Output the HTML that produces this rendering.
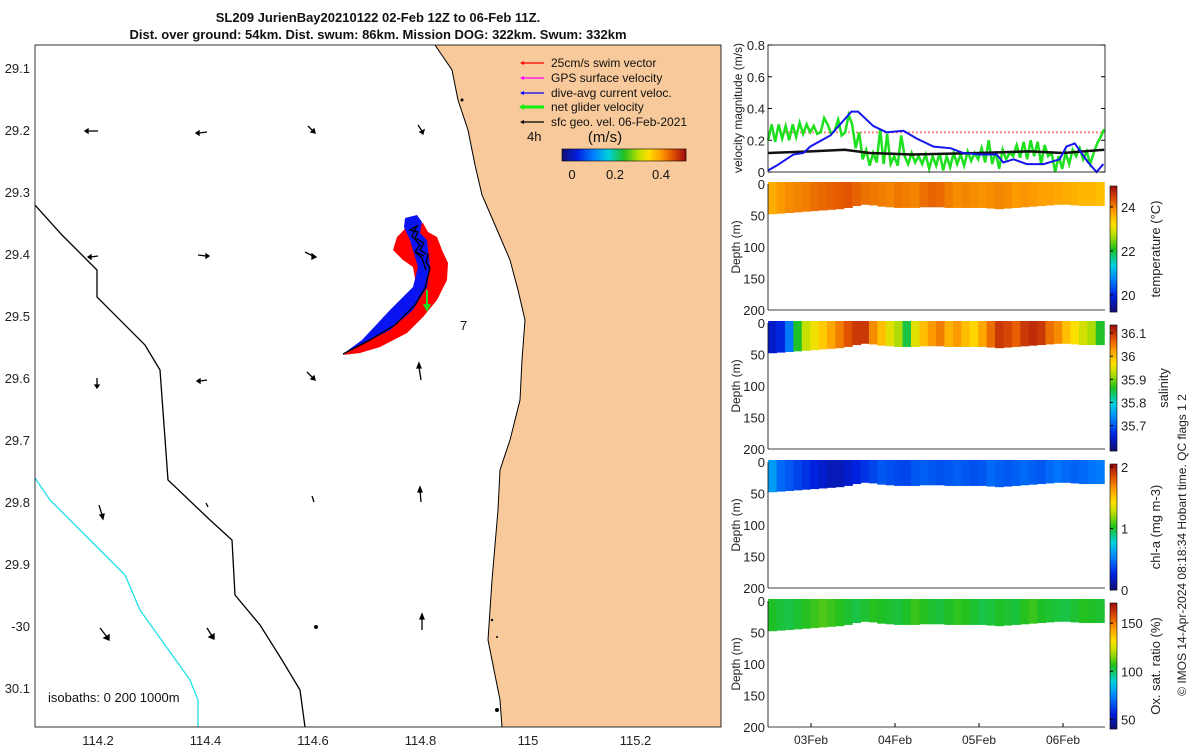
<!DOCTYPE html>
<html><head><meta charset="utf-8"><style>
body{margin:0;background:#fff;}
svg{display:block;font-family:"Liberation Sans",sans-serif;}
</style></head><body>
<svg id="fig" width="1200" height="750" viewBox="0 0 1200 750" xmlns="http://www.w3.org/2000/svg">
<text x="378" y="22" text-anchor="middle" font-size="13" font-weight="bold" fill="#111">SL209 JurienBay20210122 02-Feb 12Z to 06-Feb 11Z.</text>
<text x="378" y="39" text-anchor="middle" font-size="13" font-weight="bold" fill="#111">Dist. over ground: 54km. Dist. swum: 86km. Mission DOG: 322km. Swum: 332km</text>

<g id="map">
<clipPath id="mc"><rect x="35" y="45" width="686" height="682"/></clipPath>
<rect x="35" y="45" width="686" height="682" fill="#fff"/>
<g clip-path="url(#mc)">
<path d="M435,45 L452,70 L458,100 L468,130 L475,165 L482,195 L495,225 L510,260 L518,290 L525,320 L522,360 L520,400 L510,440 L500,470 L498,510 L495,545 L492,580 L490,610 L488,640 L494,670 L500,700 L502,727 L721,727 L721,45 Z" fill="#f8c99a"/>
<path d="M435,45 L452,70 L458,100 L468,130 L475,165 L482,195 L495,225 L510,260 L518,290 L525,320 L522,360 L520,400 L510,440 L500,470 L498,510 L495,545 L492,580 L490,610 L488,640 L494,670 L500,700 L502,727" fill="none" stroke="#000" stroke-width="1"/>
<path d="M35,205 L62,235 L97,270 L97,297 L145,345 L160,370 L168,480 L210,520 L232,540 L235,595 L260,625 L282,660 L300,690 L305,727" fill="none" stroke="#000" stroke-width="1.3"/>
<path d="M35,478 L50,500 L90,540 L125,575 L140,610 L190,680 L198,700 L198,727" fill="none" stroke="#22e0e8" stroke-width="1.3"/>
<path d="M402,232 L408,225 L423,223 L428,232 L437,237 L442,250 L448,263 L447,280 L437,300 L423,317 L407,333 L380,347 L360,353 L343,355 L370,340 L393,327 L410,310 L417,290 L413,267 L403,260 L393,250 L397,237 Z" fill="#f00"/>
<path d="M405,218 L417,215 L422,222 L420,233 L427,240 L430,267 L427,287 L413,310 L390,330 L357,347 L343,354 L362,340 L390,310 L413,287 L418,267 L410,240 L404,227 Z" fill="#0a14f0"/>
<path d="M343,354 L370,340 L395,325 L415,305 L425,288 L427,280 L430,268 L426,262 L428,255 L420,250 L424,243 L415,238 L418,232 L410,230 L417,226 L412,236 L420,245 L415,252 L422,258 L426,270" fill="none" stroke="#000" stroke-width="1.3"/>
<line x1="427" y1="290" x2="427" y2="306" stroke="#1ee01e" stroke-width="2"/>
<path d="M423,304 L427,312 L431,304 Z" fill="#1ee01e"/>
<g stroke="#000" stroke-width="1.3" fill="#000">
<line x1="98" y1="131" x2="88" y2="131"/><path d="M88,129 L85,131 L88,133Z"/>
<line x1="207" y1="132" x2="199" y2="133"/><path d="M199,131 L196,133 L199,135Z"/>
<line x1="308" y1="126" x2="313" y2="131"/><path d="M311,132 L315,133 L314,129Z"/>
<line x1="418" y1="125" x2="422" y2="131"/><path d="M420,132 L423,134 L424,130Z"/>
<line x1="98" y1="256" x2="91" y2="257"/><path d="M91,255 L88,257 L91,259Z"/>
<line x1="198" y1="255" x2="206" y2="256"/><path d="M206,254 L209,256 L206,258Z"/>
<line x1="305" y1="252" x2="313" y2="256"/><path d="M312,254 L316,257 L312,259Z"/>
<line x1="416" y1="252" x2="424" y2="256"/>
<line x1="97" y1="378" x2="97" y2="385"/><path d="M95,385 L97,388 L99,385Z"/>
<line x1="207" y1="380" x2="200" y2="381"/><path d="M200,379 L197,381 L200,383Z"/>
<line x1="307" y1="372" x2="313" y2="378"/><path d="M311,379 L315,380 L314,376Z"/>
<line x1="421" y1="380" x2="419" y2="367"/><path d="M417,368 L419,363 L421,368Z"/>
<line x1="99" y1="505" x2="102" y2="515"/><path d="M100,515 L103,519 L104,514Z"/>
<line x1="206" y1="503" x2="208" y2="507"/>
<line x1="312" y1="496" x2="314" y2="502"/>
<line x1="421" y1="502" x2="420" y2="490"/><path d="M418,492 L420,487 L422,492Z"/>
<line x1="100" y1="628" x2="107" y2="637"/><path d="M104,638 L109,640 L109,635Z"/>
<line x1="207" y1="628" x2="212" y2="636"/><path d="M209,637 L214,639 L214,634Z"/>
<circle cx="316" cy="627" r="1.3"/>
<line x1="422" y1="630" x2="422" y2="617"/><path d="M420,619 L422,614 L424,619Z"/>
</g>
<g fill="#000"><circle cx="462" cy="100" r="1.5"/><circle cx="492" cy="620" r="1.2"/><circle cx="497" cy="637" r="1"/><circle cx="497" cy="710" r="2"/></g>
<text x="460" y="330" font-size="13" fill="#111">7</text>
<text x="48" y="702" font-size="13" fill="#111">isobaths: 0   200  1000m</text>
</g>
<rect x="35" y="45" width="686" height="682" fill="none" stroke="#000" stroke-width="0.8"/>
<g id="mapticks" font-size="13" fill="#222"></g>
<g font-size="12" fill="#111">
<line x1="524" y1="63" x2="544" y2="63" stroke="#f00" stroke-width="1.3"/><path d="M524,61 L520,63 L524,65Z" fill="#f00"/><text x="551" y="67">25cm/s swim vector</text>
<line x1="524" y1="78" x2="544" y2="78" stroke="#f0f" stroke-width="1.3"/><path d="M524,76 L520,78 L524,80Z" fill="#f0f"/><text x="551" y="82">GPS surface velocity</text>
<line x1="524" y1="93" x2="544" y2="93" stroke="#00f" stroke-width="1.3"/><path d="M524,91 L520,93 L524,95Z" fill="#00f"/><text x="551" y="97">dive-avg current veloc.</text>
<line x1="524" y1="107" x2="544" y2="107" stroke="#1e1" stroke-width="3"/><path d="M524,104 L519,107 L524,110Z" fill="#1e1"/><text x="551" y="111">net glider velocity</text>
<line x1="524" y1="122" x2="544" y2="122" stroke="#000" stroke-width="1.3"/><path d="M524,120 L520,122 L524,124Z" fill="#000"/><text x="551" y="126">sfc geo. vel. 06-Feb-2021</text>
<text x="527" y="141" font-size="13">4h</text>
<text x="605" y="142" font-size="15" text-anchor="middle">(m/s)</text>
<g id="vcbar"></g>
<text x="572" y="179" text-anchor="middle" font-size="13">0</text><text x="615" y="179" text-anchor="middle" font-size="13">0.2</text><text x="661" y="179" text-anchor="middle" font-size="13">0.4</text>
</g>
</g>

<g id="right"></g>
<text transform="translate(1186,545) rotate(-90)" text-anchor="middle" font-size="12" fill="#222">© IMOS 14-Apr-2024 08:18:34 Hobart time. QC flags 1  2</text>
</svg>
<script>
// velocity time series (time in days since 02-Feb 00Z)
const blueT=[0.49,0.59,0.79,0.91,0.99,1.23,1.48,1.56,1.74,1.90,2.10,2.26,2.46,2.66,2.81,3.01,3.21,3.29,3.41,3.57,3.77,3.96,4.04,4.14,4.30,4.40,4.48];
const blueV=[0.01,0.04,0.11,0.12,0.16,0.23,0.38,0.38,0.29,0.25,0.26,0.21,0.16,0.15,0.12,0.11,0.11,0.06,0.08,0.05,0.05,0.08,0.16,0.18,0.06,0.0,0.05];
const blackT=[0.49,1.0,1.4,1.7,2.2,3.0,3.6,4.0,4.49];
const blackV=[0.12,0.13,0.14,0.12,0.11,0.12,0.13,0.12,0.14];
const swimV=0.25;
const greenV=[0.20,0.30,0.19,0.30,0.21,0.29,0.20,0.30,0.22,0.31,0.24,0.30,0.25,
0.29,0.24,0.25,0.34,0.30,0.24,0.26,0.33,0.23,0.25,0.36,0.30,
0.15,0.25,0.08,0.14,0.04,0.12,0.06,0.27,0.05,0.24,0.05,0.10,0.04,0.23,0.10,0.05,0.12,0.06,0.10,0.05,
0.11,0.02,0.10,0.04,0.12,0.01,0.10,0.03,0.12,0.05,0.11,0.04,0.13,0.07,0.12,0.08,0.15,
0.06,0.20,0.05,0.13,0.02,0.14,0.08,0.12,0.10,0.17,0.09,0.19,0.08,0.20,
0.10,0.19,0.05,0.17,0.10,0.12,0.00,0.10,0.02,0.12,0.05,0.14,0.10,0.15,0.08,0.13,
0.05,0.12,0.18,0.22,0.27];
const velTicks=[0,0.2,0.4,0.6,0.8];
const dayTicks=[1,2,3,4];
const dayLabels=["03Feb","04Feb","05Feb","06Feb"];
// section columns
const secT0=0.49, secT1=4.49;
const botDepth=[48,47,46,45,44,43,42,41,40,38,35,33,34,36,37,38,38,38,37,37,37,38,38,38,38,38,39,40,39,38,37,36,35,34,33,33,34,35,35,35];
const tempV=[23.7,23.85,23.95,24.0,24.05,24.15,24.2,24.25,24.3,24.35,24.25,24.15,24.1,24.05,24.0,24.1,24.05,24.0,24.15,24.25,24.2,24.05,23.95,24.0,23.95,23.9,23.95,24.0,23.95,23.85,23.9,23.85,23.8,23.8,23.75,23.7,23.65,23.6,23.6,23.55];
const salV=[35.64,35.66,35.72,35.86,35.93,35.96,35.99,36.02,36.05,36.08,36.1,36.1,36.04,36.0,35.95,35.92,35.85,35.95,36.0,36.03,36.05,36.01,36.03,36.0,35.98,36.02,36.06,36.1,36.09,36.07,36.1,36.11,36.1,36.06,36.04,36.0,35.97,35.94,35.92,35.86];
const chlV=[0.6,0.45,0.4,0.35,0.3,0.25,0.2,0.15,0.15,0.2,0.25,0.3,0.35,0.4,0.38,0.36,0.35,0.4,0.42,0.4,0.38,0.4,0.42,0.4,0.38,0.4,0.45,0.42,0.4,0.42,0.45,0.42,0.4,0.45,0.48,0.45,0.42,0.45,0.48,0.5];
const oxV=[105,103,102,104,106,108,110,108,106,104,102,104,106,105,104,103,105,108,106,104,103,105,107,106,104,102,103,105,104,103,106,108,105,104,103,102,104,106,105,104];
const depthTicks=[0,50,100,150,200];
const mapLon=[114.2,114.4,114.6,114.8,115,115.2];
const mapLonLab=["114.2","114.4","114.6","114.8","115","115.2"];
const mapLat=[29.1,29.2,29.3,29.4,29.5,29.6,29.7,29.8,29.9,30.0,30.1];
const mapLatLab=["29.1","29.2","29.3","29.4","29.5","29.6","29.7","29.8","29.9","-30","30.1"];

const NS="http://www.w3.org/2000/svg";
function mk(tag,attrs,parent){const e=document.createElementNS(NS,tag);for(const k in attrs)e.setAttribute(k,attrs[k]);parent.appendChild(e);return e;}
const cmapStops=[[0,[16,16,122]],[0.12,[0,32,224]],[0.25,[0,128,255]],[0.37,[0,208,224]],[0.5,[32,192,32]],[0.62,[192,224,0]],[0.7,[255,224,0]],[0.8,[255,160,0]],[0.9,[224,80,0]],[1,[160,16,16]]];
function jet(v){v=Math.max(0,Math.min(1,v));
 for(let i=1;i<cmapStops.length;i++){if(v<=cmapStops[i][0]){const a=cmapStops[i-1],b=cmapStops[i];const f=(v-a[0])/(b[0]-a[0]);
  const c=a[1].map((x,k)=>Math.round(x+(b[1][k]-x)*f));return `rgb(${c[0]},${c[1]},${c[2]})`;}}
 return 'rgb(160,16,16)';}
const xT=t=>811+(t-1)*84;
const L=768,R=1105;
const right=document.getElementById('right');

// map ticks
const mt=document.getElementById('mapticks');
const lonX=lon=>98+(lon-114.2)/0.2*107.5;
const latY=lat=>69+(lat-29.1)/0.1*62;
mapLon.forEach((v,i)=>{const t=mk('text',{x:lonX(v),y:745,'text-anchor':'middle'},mt);t.textContent=mapLonLab[i];

});
mapLat.forEach((v,i)=>{const t=mk('text',{x:30,y:latY(v)+4,'text-anchor':'end'},mt);t.textContent=mapLatLab[i];

});

// velocity colorbar
const vc=document.getElementById('vcbar');
for(let i=0;i<62;i++){mk('rect',{x:562+i*2,y:149,width:2.2,height:12,fill:jet(i/61)},vc);}
mk('rect',{x:562,y:149,width:124,height:12,fill:'none',stroke:'#000','stroke-width':0.6},vc);

// velocity panel
const vp=mk('g',{},right);


const vy=v=>172-v/0.8*127;
velTicks.forEach(v=>{const t=mk('text',{x:765,y:vy(v)+5,'text-anchor':'end','font-size':13,fill:'#222'},vp);t.textContent=String(v);


mk('line',{x1:L,x2:L+4,y1:vy(v),y2:vy(v),stroke:'#000'},vp);mk('line',{x1:R-4,x2:R,y1:vy(v),y2:vy(v),stroke:'#000'},vp);});
const sw=mk('line',{x1:L,x2:R,y1:vy(swimV),y2:vy(swimV),stroke:'#f88','stroke-width':2,'stroke-dasharray':'2,2'},vp);


const gp=greenV.map((v,i)=>[xT(secT0+i*(secT1-secT0)/(greenV.length-1)),vy(v)]);
const gl=mk('polyline',{points:gp.map(p=>p.join(',')).join(' '),fill:'none',stroke:'#1ee01e','stroke-width':2.5},vp);


const bk=mk('polyline',{points:blackT.map((t,i)=>xT(t)+','+vy(blackV[i])).join(' '),fill:'none',stroke:'#111','stroke-width':2.5},vp);


const bl=mk('polyline',{points:blueT.map((t,i)=>xT(t)+','+vy(blueV[i])).join(' '),fill:'none',stroke:'#1515ee','stroke-width':2},vp);


mk('rect',{x:L,y:45,width:R-L,height:127,fill:'none',stroke:'#000','stroke-width':0.8},vp);
const vl=mk('text',{transform:'translate(742,108) rotate(-90)','text-anchor':'middle','font-size':12,fill:'#222'},vp);vl.textContent='velocity magnitude (m/s)';



// sections
const secs=[
 {y0:184,vals:tempV,lo:19.23,hi:24.95,ticks:[20,22,24],labs:["20","22","24"],title:'temperature (°C)',name:'temperature'},
 {y0:323,vals:salV,lo:35.59,hi:36.135,ticks:[35.7,35.8,35.9,36,36.1],labs:["35.7","35.8","35.9","36","36.1"],title:'salinity',name:'salinity'},
 {y0:462,vals:chlV,lo:0,hi:2.05,ticks:[0,1,2],labs:["0","1","2"],title:'chl-a (mg m-3)',name:'chlorophyll'},
 {y0:601,vals:oxV,lo:40,hi:171,ticks:[50,100,150],labs:["50","100","150"],title:'Ox. sat. ratio (%)',name:'oxygen'}
];
const H=126;
secs.forEach((s,si)=>{
 const g=mk('g',{},right);
 
 
 const dy=d=>s.y0+d/200*H;
 const n=s.vals.length,dt=(secT1-secT0)/n;
 s.vals.forEach((v,i)=>{
  const x=xT(secT0+i*dt);
  const c=mk('rect',{x:x,y:dy(0)-2,width:84*dt+0.6,height:dy(botDepth[i])-dy(0)+2,fill:jet((v-s.lo)/(s.hi-s.lo))},g);
  
  
 });
 depthTicks.forEach(d=>{const t=mk('text',{x:765,y:dy(d)+5,'text-anchor':'end','font-size':13,fill:'#222'},g);t.textContent=String(d);
  
  });
 mk('line',{x1:L,x2:L,y1:s.y0,y2:s.y0+H,stroke:'#000','stroke-width':0.8},g);
 mk('line',{x1:L,x2:R,y1:s.y0+H,y2:s.y0+H,stroke:'#000','stroke-width':0.8},g);
 const yl=mk('text',{transform:`translate(740,${s.y0+H/2}) rotate(-90)`,'text-anchor':'middle','font-size':12,fill:'#222'},g);yl.textContent='Depth (m)';
 
 
 const cb=mk('g',{},g);
 
 
 for(let k=0;k<63;k++){mk('rect',{x:1110,y:s.y0+2+k*2,width:7,height:2.2,fill:jet(1-k/62)},cb);}
 mk('rect',{x:1110,y:s.y0+2,width:7,height:126,fill:'none',stroke:'#000','stroke-width':0.6},cb);
 s.ticks.forEach((v,k)=>{const yy=s.y0+2+126*(1-(v-s.lo)/(s.hi-s.lo));
  mk('line',{x1:1110,x2:1113,y1:yy,y2:yy,stroke:'#000'},cb);
  const t=mk('text',{x:1121,y:yy+5,'font-size':13,fill:'#222'},cb);t.textContent=s.labs[k];
  
  });
 const ct=mk('text',{transform:`translate(${si==1?1168:1160},${s.y0+65}) rotate(-90)`,'text-anchor':'middle','font-size':13,fill:'#222'},cb);ct.textContent=s.title;
 
 
});
dayTicks.forEach((d,i)=>{const t=mk('text',{x:xT(d),y:744,'text-anchor':'middle','font-size':12,fill:'#222'},right);t.textContent=dayLabels[i];
 
 
 mk('line',{x1:xT(d),x2:xT(d),y1:727,y2:723,stroke:'#000'},right);});
</script>
</body></html>
